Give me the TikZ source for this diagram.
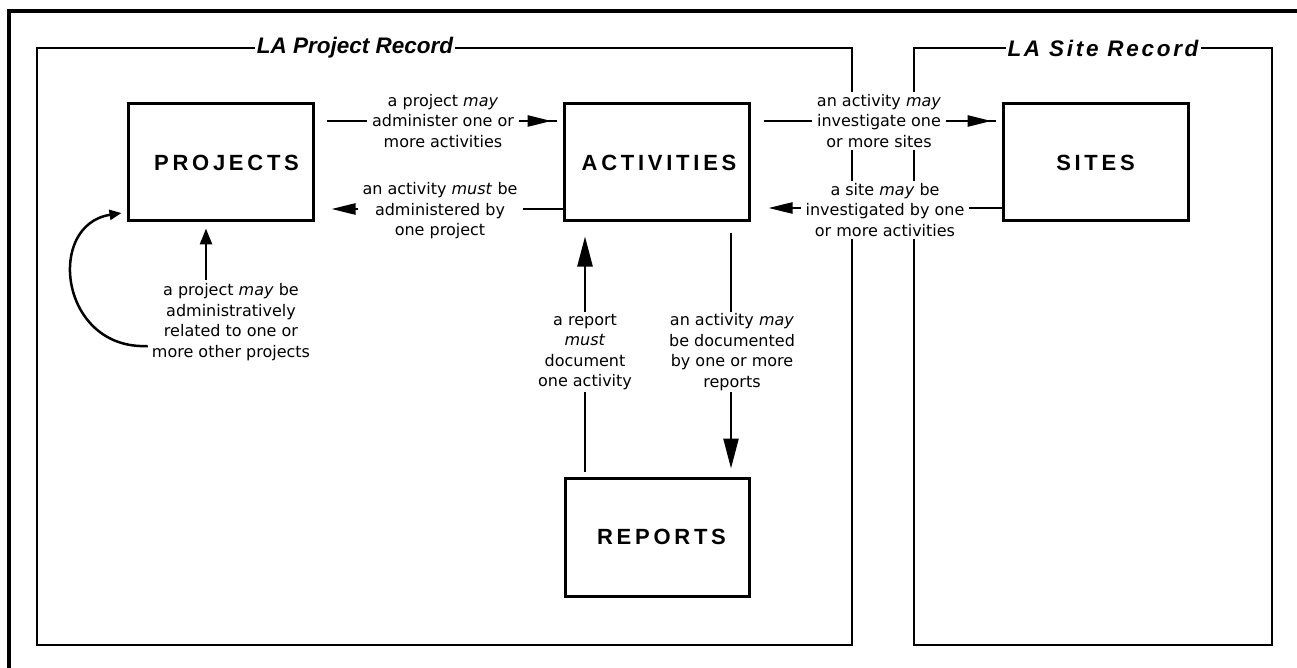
\documentclass[tikz,border=0pt]{standalone}
\usepackage{fontspec}
\setmainfont{DejaVu Sans}
\newfontfamily\boxfont[LetterSpace=17]{Liberation Sans}
\newfontfamily\titlefont[LetterSpace=0]{Liberation Sans}
\newfontfamily\sitetitlefont[LetterSpace=12]{Liberation Sans}
\usetikzlibrary{arrows.meta,calc,decorations.markings}
\begin{document}
\begin{tikzpicture}[x=1pt,y=-1pt,
  boxn/.style={draw, line width=3pt, minimum width=185pt, minimum height=117pt, inner sep=0pt,
    font=\boxfont\bfseries\fontsize{22}{24}\selectfont},
  lab/.style={fill=white, align=center, inner xsep=5pt, inner ysep=2pt,
    font=\fontsize{16}{20.5}\selectfont},
  frame/.style={draw, line width=1.5pt},
  ttl/.style={fill=white, inner xsep=2pt, inner ysep=0pt,
    font=\titlefont\bfseries\itshape\fontsize{22.5}{24}\selectfont},
  ttlsite/.style={ttl, font=\sitetitlefont\bfseries\itshape\fontsize{22.5}{24}\selectfont},
  conn/.style={line width=2.5pt},
  harr/.style={-{Triangle[length=24pt,width=11pt]}},
  varr/.style={-{Triangle[length=30pt,width=15pt]}},
  hmid/.style={postaction={decorate}, decoration={markings,
    mark=at position #1 with {\arrow{Triangle[length=24pt,width=11pt]}}}},
]
\useasboundingbox (0,0) rectangle (1297,668);
\fill[white] (0,0) rectangle (1297,668);
% outer border
\draw[line width=3.5pt] (9,668) -- (9,11) -- (1297,11);
% record frames
\draw[frame] (37,48) rectangle (852,645);
\draw[frame] (914,48) rectangle (1272,645);
\node[ttl] (T1) at (355,48) {LA Project Record};
\node[ttlsite] (T2) at (1103,48) {LA Site Record};
% entity boxes
\node[boxn] (P) at (220.5,162.5) {\hspace{12pt}PROJECTS};
\node[boxn] (A) at (656.5,162.5) {\hspace{5pt}ACTIVITIES};
\node[boxn] (S) at (1095.5,162.5) {SITES};
\node[boxn, minimum width=184pt, minimum height=118pt] (R) at (657,537) {\hspace{9pt}REPORTS};
% connectors
\draw[conn, hmid=-5pt] ($(P.east)+(12,-41.5)$) -- ($(A.west)+(-6,-41.5)$);
\draw[conn, harr] ($(A.west)+(0,46.5)$) -- ($(P.east)+(17,46.5)$);
\draw[conn, hmid=-4pt] ($(A.east)+(13,-41.5)$) -- ($(S.west)+(-6,-41.5)$);
\draw[conn, harr] ($(S.west)+(0,45.5)$) -- ($(A.east)+(18,45.5)$);
\draw[conn, -{Triangle[length=16pt,width=12pt]}] ($(P.south)+(-14.5,57)$) -- ($(P.south)+(-14.5,6)$);
\draw[conn, varr] ($(R.north)+(-72,-5)$) -- ($(A.south)+(-71.5,14)$);
\draw[conn, varr] ($(A.south)+(74.5,11)$) -- ($(R.north)+(74,-8)$);
% labels
\node[lab] (L1) at (443,121) {a project \textit{may}\\administer one or\\more activities};
\node[lab] (L2) at (440,211) {an activity \textit{must} be\\administered by\\one project};
\node[lab] (L3) at (879,121) {an activity \textit{may}\\investigate one\\or more sites};
\node[lab] (L4) at (885,210) {a site \textit{may} be\\investigated by one\\or more activities};
\node[lab] (L5) at (231,322) {a project \textit{may} be\\administratively\\related to one or\\more other projects};
\node[lab] (L6) at (585,352) {a report\\\textit{must}\\document\\one activity};
\node[lab] (L7) at (732,352) {an activity \textit{may}\\be documented\\by one or more\\reports};
% self loop
\draw[conn, -{Triangle[length=12pt,width=10pt]}] ($(L5.west)+(1,24)$) .. controls (60,350) and (45,225) .. ($(P.west)+(-5,50.5)$);
\end{tikzpicture}
\end{document}
